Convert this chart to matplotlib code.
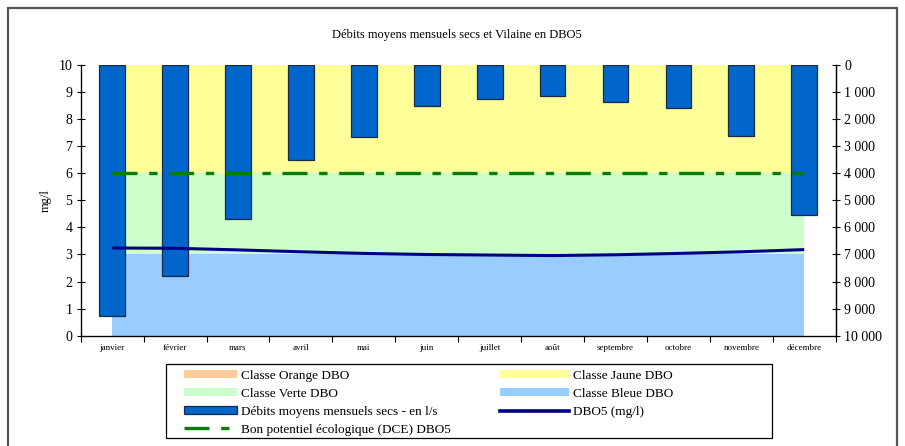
import matplotlib
matplotlib.use("Agg")
import matplotlib.pyplot as plt
from matplotlib.patches import Patch, Rectangle
from matplotlib.lines import Line2D
import numpy as np

plt.rcParams['font.family'] = ['Liberation Serif', 'DejaVu Serif']

# Données mensuelles
mois = ["janvier", "février", "mars", "avril", "mai", "juin", "juillet",
        "août", "septembre", "octobre", "novembre", "décembre"]
debits = [9270, 7780, 5690, 3500, 2650, 1520, 1270, 1130, 1370, 1600, 2620, 5540]  # l/s
dbo5 = [3.24, 3.23, 3.17, 3.10, 3.04, 3.00, 2.98, 2.96, 2.99, 3.04, 3.10, 3.18]  # mg/l
bon_potentiel = 6

# Limites des classes de qualité DBO (mg/l)
seuil_bleue = 3
seuil_verte = 6
seuil_jaune = 10
seuil_orange = 15

c_orange = "#FFCC99"
c_jaune = "#FFFF99"
c_verte = "#CCFFCC"
c_bleue = "#99CCFF"
c_barres = "#0066CC"
c_dbo = "#000080"
c_dce = "#0A7A0A"

W, H = 905, 446
fig = plt.figure(figsize=(W / 100, H / 100), dpi=100)
fig.patch.set_facecolor("white")

def fx(px):
    return px / W

def fy(py):
    return 1 - py / H

# cadre autour du graphique
fig.patches.append(Rectangle((fx(8), fy(460)), fx(889), fy(8) - fy(460),
                             transform=fig.transFigure, fill=False,
                             edgecolor="#555555", lw=1.6))

ax = fig.add_axes([fx(80.7), fy(335.7), fx(835.7) - fx(80.7), fy(65) - fy(335.7)])
x = np.arange(len(mois))

# bandes des classes
n = len(mois)
bandes = [np.full(n, seuil_bleue), np.full(n, seuil_verte - seuil_bleue),
          np.full(n, seuil_jaune - seuil_verte), np.full(n, seuil_orange - seuil_jaune)]
ax.stackplot(x, *bandes, colors=[c_bleue, c_verte, c_jaune, c_orange], lw=0)
ax.set_xlim(-0.5, n - 0.5)
ax.set_ylim(0, 10)
ax.set_yticks(range(0, 11))
ax.set_ylabel("mg/l", fontsize=9, labelpad=5)
ax.set_xticks(x)
ax.set_xticklabels(mois, fontsize=6.5)
ax.set_xticks(np.arange(-0.5, n, 1), minor=True)
ax.tick_params(axis="x", which="major", length=0, pad=6)
ax.tick_params(axis="x", which="minor", length=4, direction="out", width=0.8)
ax.tick_params(axis="y", direction="inout", length=6, width=0.8, labelsize=10, pad=3)
ax.spines["top"].set_visible(False)
for s in ("left", "bottom", "right"):
    ax.spines[s].set_linewidth(0.9)

# débits sur l'axe secondaire inversé
ax2 = ax.twinx()
ax2.bar(x, debits, width=0.41, color=c_barres, edgecolor="#1A2A44", lw=0.9)
ax2.set_ylim(10000, 0)
ax2.set_yticks(range(0, 10001, 1000))
ax2.set_yticklabels(["0"] + [f"{v // 1000} 000" for v in range(1000, 10001, 1000)])
ax2.tick_params(axis="y", direction="inout", length=6, width=0.8, labelsize=10, pad=3)
ax2.spines["top"].set_visible(False)
ax2.spines["right"].set_linewidth(0.9)

# courbes au premier plan
ax3 = ax.twinx()
ax3.set_ylim(0, 10)
ax3.axis("off")
ax3.plot(x, dbo5, color=c_dbo, lw=2.2, solid_capstyle="butt")
ax3.plot([x[0], x[-1]], [bon_potentiel, bon_potentiel], color=c_dce, lw=2.4,
         dashes=(7.5, 3.5, 2.5, 3.5))

fig.text(fx(457), fy(35), "Débits moyens mensuels secs et Vilaine en DBO5",
         ha="center", va="center", fontsize=9)

# légende en deux colonnes indépendantes
leg_kw = dict(loc="upper left", borderaxespad=0, borderpad=0, fontsize=9.5,
              handleheight=0.55, labelspacing=0.45, frameon=False)
fig.legend(
    [Patch(facecolor=c_orange, edgecolor="none"),
     Patch(facecolor=c_verte, edgecolor="none"),
     Patch(facecolor=c_barres, edgecolor="#1A2A44", lw=0.9),
     Line2D([], [], color=c_dce, lw=2.4, dashes=(7.5, 3.5, 2.5, 3.5))],
    ["Classe Orange DBO", "Classe Verte DBO", "Débits moyens mensuels secs - en l/s",
     "Bon potentiel écologique (DCE) DBO5"],
    bbox_to_anchor=(fx(184), fy(370)), handlelength=4.0, handletextpad=0.35, **leg_kw)
fig.legend(
    [Patch(facecolor=c_jaune, edgecolor="none"),
     Patch(facecolor=c_bleue, edgecolor="none"),
     Line2D([], [], color=c_dbo, lw=2.6)],
    ["Classe Jaune DBO", "Classe Bleue DBO", "DBO5 (mg/l)"],
    bbox_to_anchor=(fx(500), fy(370)), handlelength=5.2, handletextpad=0.3, **leg_kw)

# cadre de la légende
fig.patches.append(Rectangle((fx(166), fy(438)), fx(772) - fx(166), fy(364) - fy(438),
                             transform=fig.transFigure, fill=False,
                             edgecolor="black", lw=0.9))

fig.savefig("out.png", dpi=100)
